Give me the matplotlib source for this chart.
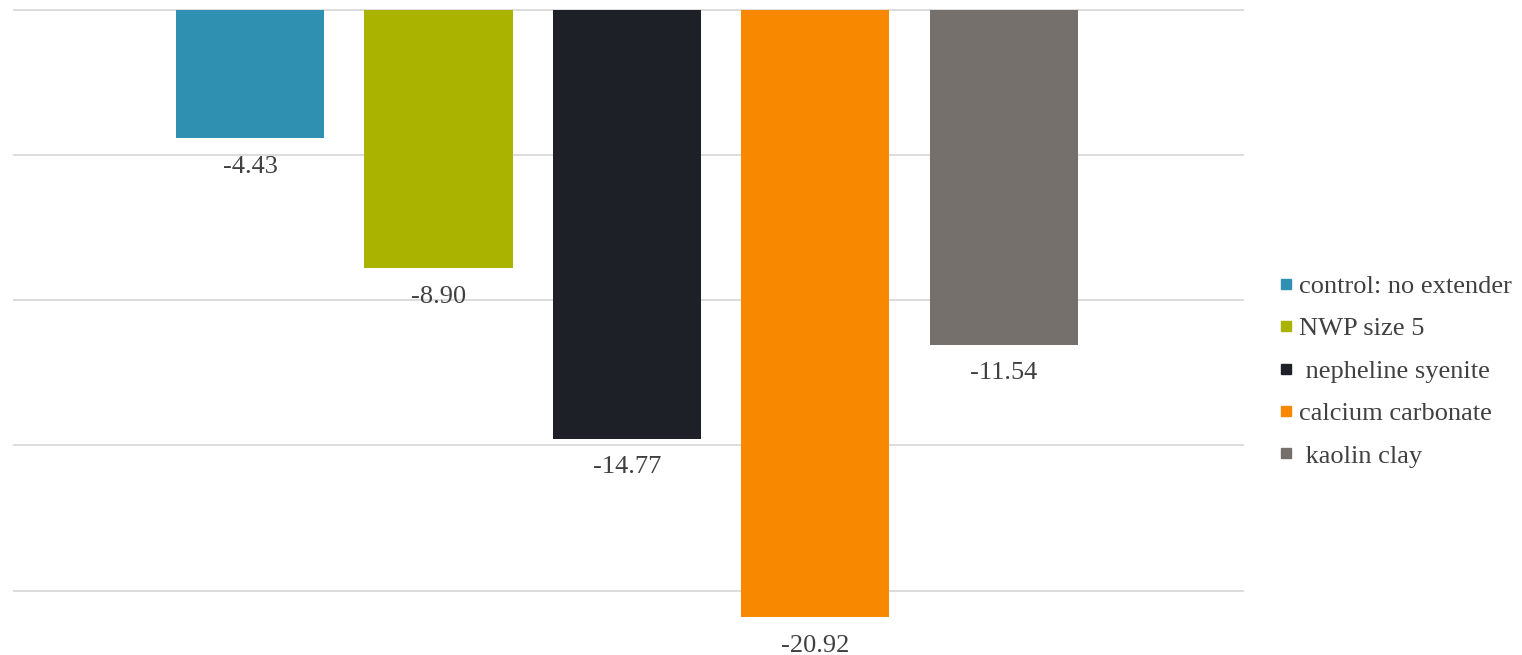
import matplotlib
matplotlib.use("Agg")
import matplotlib.pyplot as plt
from matplotlib.lines import Line2D

series = ["control: no extender", "NWP size 5", " nepheline syenite",
          "calcium carbonate", " kaolin clay"]
values = [-4.43, -8.90, -14.77, -20.92, -11.54]
colors = ["#3090B1", "#AAB400", "#1E2028", "#F78800", "#76706C"]
grid_levels = [0, -5, -10, -15, -20]

plt.rcParams["font.family"] = ["Liberation Serif", "DejaVu Serif"]
text_color = "#404040"
font_size = 19

W, H = 1522, 655
fig = plt.figure(figsize=(W / 100, H / 100), dpi=100)
ax_left, ax_right = 14, 1243
ax_top, ax_bottom = 9.5, 648.6
ax = fig.add_axes([ax_left / W, 1 - ax_bottom / H,
                   (ax_right - ax_left) / W, (ax_bottom - ax_top) / H])

for lvl in grid_levels:
    ax.axhline(lvl, color="#D9D9D9", lw=1.3, zorder=0, clip_on=False)

pos = list(range(len(values)))
ax.bar(pos, values, width=0.786, color=colors, zorder=2)

for p, v in zip(pos, values):
    ax.annotate(f"{v:.2f}", (p, v), xytext=(0, -20.5), textcoords="offset points",
                ha="center", va="center", fontsize=font_size, color=text_color,
                zorder=3, annotation_clip=False)

ax.set_xlim(-1.253, 5.27)
ax.set_ylim(-22, 0)
ax.axis("off")

handles = [Line2D([], [], marker="s", linestyle="none", markersize=7,
                  markerfacecolor=c, markeredgecolor=c) for c in colors]
leg = fig.legend(handles, series, loc="center left",
                 bbox_to_anchor=(1278 / W, 1 - 371 / H), frameon=False,
                 fontsize=font_size, handlelength=0.6, handletextpad=0.19,
                 labelspacing=0.72, borderaxespad=0, borderpad=0)
for t in leg.get_texts():
    t.set_color(text_color)

fig.savefig("out.png", dpi=100)
